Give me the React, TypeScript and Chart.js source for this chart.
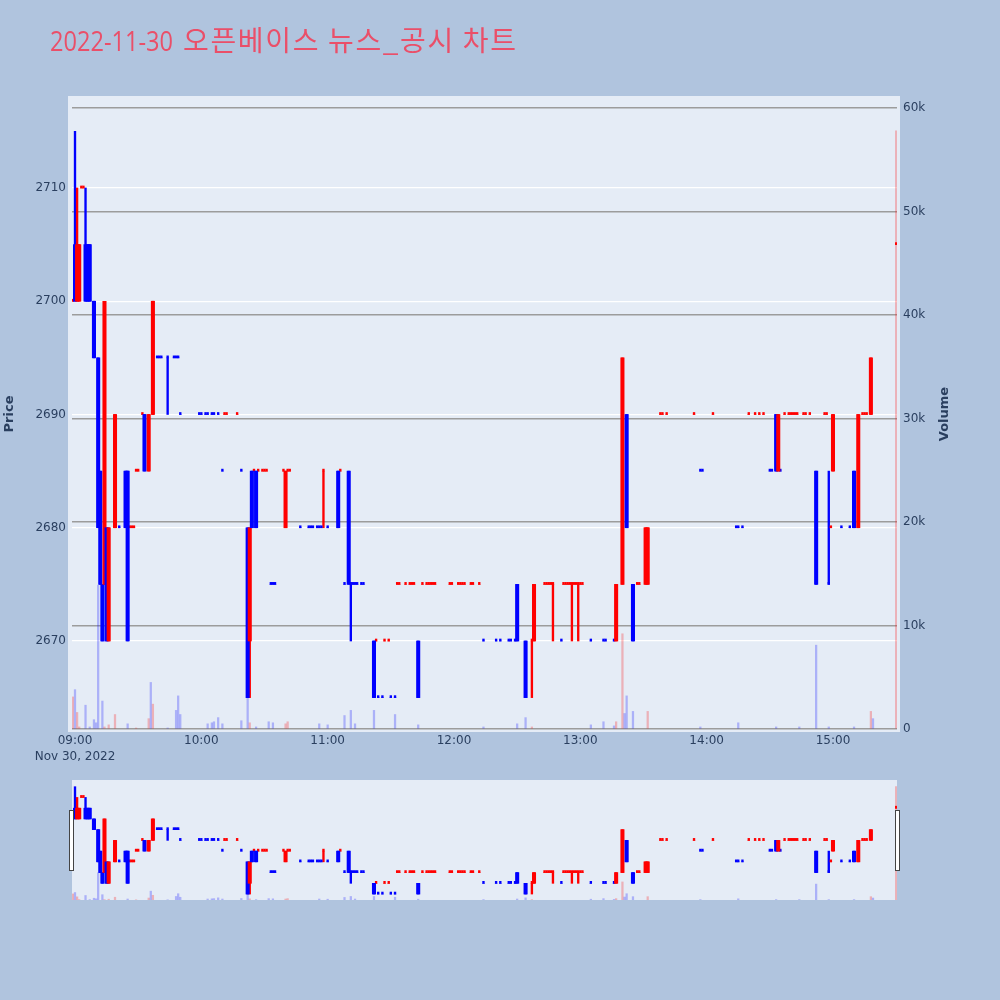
import React, { useEffect, useRef } from 'react';
import { Chart, registerables } from 'chart.js';

Chart.register(...registerables);

// ---- Data (minutes after 09:00) ----
const candleMinute = [
  -1, 0, 1, 2, 3, 4, 5, 6, 7, 9, 11, 12, 13, 14, 15, 16, 19, 21, 24, 25,
  26, 27, 28, 29, 30, 32, 33, 35, 37, 39, 40, 41, 44, 47, 48, 49, 50, 59, 60, 62,
  63, 65, 66, 68, 70, 71, 72, 77, 79, 82, 83, 84, 85, 86, 87, 89, 90, 91, 93, 94,
  95, 99, 100, 101, 102, 107, 111, 112, 113, 115, 116, 117, 118, 120, 125, 126, 128, 130, 131, 132,
  133, 134, 136, 137, 142, 143, 144, 146, 147, 149, 150, 152, 153, 154, 157, 159, 160, 161, 163, 165,
  167, 168, 169, 170, 171, 178, 179, 182, 183, 184, 185, 188, 189, 192, 194, 200, 202, 206, 207, 209,
  210, 214, 217, 218, 223, 224, 225, 226, 227, 231, 232, 233, 234, 235, 236, 237, 238, 239, 240, 241,
  245, 251, 252, 256, 257, 260, 262, 265, 267, 268, 271, 272, 278, 279, 281, 294, 297, 298, 303, 314,
  315, 317, 320, 323, 325, 327, 330, 331, 333, 334, 335, 337, 339, 340, 341, 342, 343, 346, 347, 349,
  352, 356, 357, 358, 359, 360, 364, 368, 370, 372, 374, 375, 376, 378, 390,
];
const candleOpen = [
  2700, 2705, 2700, 2700, 2710, 2710, 2705, 2705, 2705, 2700, 2695, 2685, 2675, 2675, 2680, 2670, 2680, 2680, 2685, 2685,
  2680, 2680, 2680, 2685, 2685, 2690, 2690, 2685, 2690, 2695, 2695, 2695, 2695, 2695, 2695, 2695, 2690, 2690, 2690, 2690,
  2690, 2690, 2690, 2690, 2685, 2690, 2690, 2690, 2685, 2680, 2670, 2685, 2685, 2685, 2685, 2685, 2685, 2685, 2675, 2675,
  2675, 2685, 2680, 2685, 2685, 2680, 2680, 2680, 2680, 2680, 2680, 2680, 2685, 2680, 2685, 2685, 2675, 2685, 2675, 2675,
  2675, 2675, 2675, 2675, 2670, 2670, 2665, 2665, 2670, 2670, 2665, 2665, 2675, 2675, 2675, 2675, 2675, 2675, 2670, 2675,
  2675, 2675, 2675, 2675, 2675, 2675, 2675, 2675, 2675, 2675, 2675, 2675, 2675, 2675, 2670, 2670, 2670, 2670, 2670, 2670,
  2675, 2670, 2670, 2670, 2675, 2675, 2675, 2675, 2675, 2670, 2675, 2675, 2675, 2675, 2675, 2675, 2675, 2675, 2675, 2675,
  2670, 2670, 2670, 2670, 2670, 2675, 2690, 2675, 2675, 2675, 2675, 2675, 2690, 2690, 2690, 2690, 2685, 2685, 2690, 2680,
  2680, 2680, 2690, 2690, 2690, 2690, 2685, 2685, 2690, 2685, 2685, 2690, 2690, 2690, 2690, 2690, 2690, 2690, 2690, 2690,
  2685, 2690, 2690, 2675, 2680, 2685, 2680, 2680, 2685, 2680, 2690, 2690, 2690, 2690, 2705,
];
const candleHigh = [
  2700, 2715, 2710, 2705, 2710, 2710, 2710, 2705, 2705, 2700, 2695, 2685, 2675, 2700, 2680, 2680, 2690, 2680, 2685, 2685,
  2680, 2680, 2680, 2685, 2685, 2690, 2690, 2690, 2700, 2695, 2695, 2695, 2695, 2695, 2695, 2695, 2690, 2690, 2690, 2690,
  2690, 2690, 2690, 2690, 2685, 2690, 2690, 2690, 2685, 2680, 2680, 2685, 2685, 2685, 2685, 2685, 2685, 2685, 2675, 2675,
  2675, 2685, 2685, 2685, 2685, 2680, 2680, 2680, 2680, 2680, 2680, 2680, 2685, 2680, 2685, 2685, 2675, 2685, 2675, 2675,
  2675, 2675, 2675, 2675, 2670, 2670, 2665, 2665, 2670, 2670, 2665, 2665, 2675, 2675, 2675, 2675, 2675, 2675, 2670, 2675,
  2675, 2675, 2675, 2675, 2675, 2675, 2675, 2675, 2675, 2675, 2675, 2675, 2675, 2675, 2670, 2670, 2670, 2670, 2670, 2670,
  2675, 2670, 2670, 2675, 2675, 2675, 2675, 2675, 2675, 2670, 2675, 2675, 2675, 2675, 2675, 2675, 2675, 2675, 2675, 2675,
  2670, 2670, 2670, 2670, 2675, 2695, 2690, 2675, 2675, 2675, 2680, 2680, 2690, 2690, 2690, 2690, 2685, 2685, 2690, 2680,
  2680, 2680, 2690, 2690, 2690, 2690, 2685, 2685, 2690, 2690, 2685, 2690, 2690, 2690, 2690, 2690, 2690, 2690, 2690, 2690,
  2685, 2690, 2690, 2685, 2680, 2690, 2680, 2680, 2685, 2690, 2690, 2690, 2690, 2695, 2705,
];
const candleLow = [
  2700, 2700, 2700, 2700, 2710, 2710, 2700, 2700, 2700, 2695, 2680, 2675, 2670, 2675, 2670, 2670, 2680, 2680, 2680, 2670,
  2680, 2680, 2680, 2685, 2685, 2690, 2685, 2685, 2690, 2695, 2695, 2695, 2690, 2695, 2695, 2695, 2690, 2690, 2690, 2690,
  2690, 2690, 2690, 2690, 2685, 2690, 2690, 2690, 2685, 2665, 2665, 2680, 2685, 2680, 2685, 2685, 2685, 2685, 2675, 2675,
  2675, 2685, 2680, 2685, 2685, 2680, 2680, 2680, 2680, 2680, 2680, 2680, 2680, 2680, 2680, 2685, 2675, 2675, 2670, 2675,
  2675, 2675, 2675, 2675, 2665, 2670, 2665, 2665, 2670, 2670, 2665, 2665, 2675, 2675, 2675, 2675, 2675, 2675, 2665, 2675,
  2675, 2675, 2675, 2675, 2675, 2675, 2675, 2675, 2675, 2675, 2675, 2675, 2675, 2675, 2670, 2670, 2670, 2670, 2670, 2670,
  2670, 2665, 2665, 2670, 2675, 2675, 2675, 2675, 2670, 2670, 2675, 2675, 2675, 2675, 2670, 2675, 2675, 2670, 2675, 2675,
  2670, 2670, 2670, 2670, 2670, 2675, 2680, 2670, 2675, 2675, 2675, 2675, 2690, 2690, 2690, 2690, 2685, 2685, 2690, 2680,
  2680, 2680, 2690, 2690, 2690, 2690, 2685, 2685, 2685, 2685, 2685, 2690, 2690, 2690, 2690, 2690, 2690, 2690, 2690, 2690,
  2675, 2690, 2690, 2675, 2680, 2685, 2680, 2680, 2680, 2680, 2690, 2690, 2690, 2690, 2705,
];
const candleClose = [
  2700, 2700, 2705, 2705, 2710, 2710, 2700, 2700, 2700, 2695, 2680, 2675, 2670, 2700, 2670, 2680, 2690, 2680, 2680, 2670,
  2680, 2680, 2680, 2685, 2685, 2690, 2685, 2690, 2700, 2695, 2695, 2695, 2695, 2695, 2695, 2695, 2690, 2690, 2690, 2690,
  2690, 2690, 2690, 2690, 2685, 2690, 2690, 2690, 2685, 2665, 2680, 2680, 2685, 2680, 2685, 2685, 2685, 2685, 2675, 2675,
  2675, 2685, 2685, 2685, 2685, 2680, 2680, 2680, 2680, 2680, 2680, 2680, 2685, 2680, 2680, 2685, 2675, 2675, 2675, 2675,
  2675, 2675, 2675, 2675, 2665, 2670, 2665, 2665, 2670, 2670, 2665, 2665, 2675, 2675, 2675, 2675, 2675, 2675, 2665, 2675,
  2675, 2675, 2675, 2675, 2675, 2675, 2675, 2675, 2675, 2675, 2675, 2675, 2675, 2675, 2670, 2670, 2670, 2670, 2670, 2670,
  2670, 2665, 2670, 2675, 2675, 2675, 2675, 2675, 2675, 2670, 2675, 2675, 2675, 2675, 2675, 2675, 2675, 2675, 2675, 2675,
  2670, 2670, 2670, 2670, 2675, 2695, 2680, 2670, 2675, 2675, 2680, 2680, 2690, 2690, 2690, 2690, 2685, 2685, 2690, 2680,
  2680, 2680, 2690, 2690, 2690, 2690, 2685, 2685, 2685, 2690, 2685, 2690, 2690, 2690, 2690, 2690, 2690, 2690, 2690, 2690,
  2675, 2690, 2690, 2675, 2680, 2690, 2680, 2680, 2680, 2690, 2690, 2690, 2690, 2695, 2705,
];

const volumeMinute = [
  -1, 0, 1, 2, 5, 7, 9, 10, 11, 13, 14, 16, 19, 25, 29, 35, 36, 37, 44, 48,
  49, 50, 63, 65, 66, 68, 70, 79, 82, 83, 86, 92, 94, 100, 101, 116, 120, 128, 131, 133,
  142, 152, 163, 194, 210, 214, 217, 245, 251, 256, 257, 260, 261, 262, 265, 272, 297, 315, 333, 344,
  352, 358, 370, 378, 379, 390,
];
const volumeValue = [
  3100, 3800, 1600, 200, 2300, 200, 900, 600, 13900, 2700, 200, 400, 1400, 500, 100, 1000, 4500, 2400, 100, 1800,
  3200, 1400, 500, 600, 700, 1100, 500, 800, 3200, 600, 200, 700, 600, 500, 700, 500, 400, 1300, 1800, 500,
  1800, 1400, 400, 200, 500, 1100, 200, 400, 700, 300, 700, 9200, 1500, 3200, 1700, 1700, 200, 600, 200, 200,
  8100, 200, 200, 1700, 1000, 57800,
];

const timeTickMinutes = [0, 60, 120, 180, 240, 300, 360];
const timeTickLabels = ['09:00', '10:00', '11:00', '12:00', '13:00', '14:00', '15:00'];
const dateLabel = 'Nov 30, 2022';
const priceTicks = [2670, 2680, 2690, 2700, 2710];
const volumeTicks = [0, 10000, 20000, 30000, 40000, 50000, 60000];
const titleDate = '2022-11-30';
const titleRest = '오픈베이스 뉴스_공시 차트';

// ---- Ranges / styling ----
const X_MIN = -1.425;
const X_MAX = 390.4;
const PRICE_MIN = 2662.23;
const PRICE_MAX = 2718.12;
const VOL_MIN = 0;
const VOL_MAX = 61160;

const RED = '#ff0000';
const BLUE = '#0000ff';
const RED_VOL = 'rgba(255,0,0,0.25)';
const BLUE_VOL = 'rgba(0,0,255,0.25)';
const AXIS_COLOR = '#2a3f5f';
const PLOT_BG = '#e5ecf6';
const TICK_FONT = '"DejaVu Sans", Verdana, sans-serif';
const TITLE_FONT = '"Open Sans", "Noto Sans CJK KR", sans-serif';
const KR_FONT = '"Noto Sans CJK KR", sans-serif';

function candleDirections(): boolean[] {
  const dirs: boolean[] = [];
  let prevClose: number | null = null;
  let prevUp = true;
  for (let i = 0; i < candleMinute.length; i++) {
    const o = candleOpen[i];
    const c = candleClose[i];
    let up: boolean;
    if (c > o) up = true;
    else if (c < o) up = false;
    else if (prevClose === null) up = true;
    else if (c > prevClose) up = true;
    else if (c < prevClose) up = false;
    else up = prevUp;
    dirs.push(up);
    prevClose = c;
    prevUp = up;
  }
  return dirs;
}

function buildDatasets(): any[] {
  const up = candleDirections();
  const col = up.map((u) => (u ? RED : BLUE));
  const volCol = volumeMinute.map((m) => {
    const i = candleMinute.indexOf(m);
    return i >= 0 && up[i] ? RED_VOL : BLUE_VOL;
  });
  const bodyIdx: number[] = [];
  const dojiIdx: number[] = [];
  candleMinute.forEach((_, i) => {
    if (candleOpen[i] === candleClose[i]) dojiIdx.push(i);
    else bodyIdx.push(i);
  });
  return [
    {
      type: 'bar',
      label: 'Volume',
      yAxisID: 'y2',
      data: volumeMinute.map((m, i) => ({ x: m, y: volumeValue[i] })),
      backgroundColor: volCol,
      barThickness: 1.6,
      grouped: false,
      order: 4,
    },
    {
      type: 'bar',
      label: 'wick',
      yAxisID: 'y',
      data: candleMinute.map((m, i) => ({ x: m, y: [candleLow[i], candleHigh[i]] })),
      backgroundColor: col,
      barThickness: 1.7,
      grouped: false,
      order: 3,
    },
    {
      type: 'bar',
      label: 'doji',
      yAxisID: 'y',
      data: dojiIdx.map((i) => ({ x: candleMinute[i], y: [candleOpen[i], candleClose[i]] })),
      backgroundColor: dojiIdx.map((i) => col[i]),
      barThickness: 1.7,
      minBarLength: 2,
      grouped: false,
      order: 2,
    },
    {
      type: 'bar',
      label: 'body',
      yAxisID: 'y',
      data: bodyIdx.map((i) => ({
        x: candleMinute[i],
        y: [Math.min(candleOpen[i], candleClose[i]), Math.max(candleOpen[i], candleClose[i])],
      })),
      backgroundColor: bodyIdx.map((i) => col[i]),
      barThickness: 3.4,
      grouped: false,
      order: 1,
    },
  ];
}

const mainPlugin = {
  id: 'mainDecor',
  beforeDraw(chart: any) {
    const ctx = chart.ctx;
    ctx.save();
    ctx.fillStyle = PLOT_BG;
    ctx.fillRect(68, 96, 832, 636);
    ctx.restore();
  },
  afterDraw(chart: any) {
    const ctx = chart.ctx;
    // Title
    ctx.save();
    ctx.fillStyle = '#ea4f69';
    ctx.textBaseline = 'alphabetic';
    ctx.textAlign = 'left';
    ctx.font = `27.5px ${TITLE_FONT}`;
    ctx.fillText(titleDate, 50, 50.5, 123);
    ctx.font = `28px ${KR_FONT}`;
    const target = 333;
    const w0 = ctx.measureText(titleRest).width;
    const n = Array.from(titleRest).length;
    const spacing = (target - w0) / Math.max(1, n - 1);
    if ('letterSpacing' in ctx) (ctx as any).letterSpacing = `${spacing.toFixed(2)}px`;
    ctx.fillText(titleRest, 183, 51);
    ctx.restore();

    // Axis titles
    ctx.save();
    ctx.fillStyle = AXIS_COLOR;
    ctx.font = `bold 13px ${TICK_FONT}`;
    ctx.textAlign = 'center';
    ctx.textBaseline = 'middle';
    ctx.translate(10, 414);
    ctx.rotate(-Math.PI / 2);
    ctx.fillText('Price', 0, 0);
    ctx.restore();

    ctx.save();
    ctx.fillStyle = AXIS_COLOR;
    ctx.font = `bold 13px ${TICK_FONT}`;
    ctx.textAlign = 'center';
    ctx.textBaseline = 'middle';
    ctx.translate(945, 414);
    ctx.rotate(-Math.PI / 2);
    ctx.fillText('Volume', 0, 0);
    ctx.restore();
  },
};

const sliderPlugin = {
  id: 'sliderDecor',
  beforeDraw(chart: any) {
    const { left, top, right, bottom } = chart.chartArea;
    const ctx = chart.ctx;
    ctx.save();
    ctx.fillStyle = PLOT_BG;
    ctx.fillRect(left, top, right - left, bottom - top);
    ctx.restore();
  },
  afterDraw(chart: any) {
    const { left, top, right, bottom } = chart.chartArea;
    const ctx = chart.ctx;
    const h = bottom - top;
    ctx.save();
    ctx.fillStyle = '#ffffff';
    ctx.strokeStyle = '#444444';
    ctx.lineWidth = 1;
    const gy = top + h * 0.25;
    const gh = h * 0.5;
    ctx.fillRect(left - 3, gy, 4, gh);
    ctx.strokeRect(left - 2.5, gy + 0.5, 4, gh);
    ctx.fillRect(right - 1, gy, 4, gh);
    ctx.strokeRect(right - 1.5, gy + 0.5, 4, gh);
    ctx.restore();
  },
};

const tickFont = { family: TICK_FONT, size: 12, lineHeight: 1.35 };

export default function App() {
  const mainRef = useRef<HTMLCanvasElement | null>(null);
  const sliderRef = useRef<HTMLCanvasElement | null>(null);

  useEffect(() => {
    document.body.style.margin = '0';
    document.documentElement.style.overflow = 'hidden';
    const main = new Chart(mainRef.current as HTMLCanvasElement, {
      type: 'bar',
      data: { datasets: buildDatasets() },
      plugins: [mainPlugin],
      options: {
        animation: false,
        responsive: false,
        layout: { padding: { top: 96, left: 0, right: 0, bottom: 0 } },
        plugins: { legend: { display: false }, tooltip: { enabled: false }, title: { display: false } },
        scales: {
          x: {
            type: 'linear',
            min: X_MIN,
            max: X_MAX,
            offset: false,
            grid: { display: false, drawTicks: false },
            border: { display: false },
            afterBuildTicks: (s: any) => {
              s.ticks = timeTickMinutes.map((v) => ({ value: v }));
            },
            afterFit: (s: any) => {
              s.height = 41;
            },
            ticks: {
              autoSkip: false,
              maxRotation: 0,
              minRotation: 0,
              padding: 4,
              color: AXIS_COLOR,
              font: tickFont,
              callback: (v: any) => {
                const idx = timeTickMinutes.indexOf(Number(v));
                const lab = idx >= 0 ? timeTickLabels[idx] : '';
                return idx === 0 ? [lab, dateLabel] : lab;
              },
            },
          },
          y: {
            type: 'linear',
            position: 'left',
            min: PRICE_MIN,
            max: PRICE_MAX,
            grid: { color: '#ffffff', lineWidth: 1.3, drawTicks: false },
            border: { display: false },
            afterBuildTicks: (s: any) => {
              s.ticks = priceTicks.map((v) => ({ value: v }));
            },
            afterFit: (s: any) => {
              s.width = 72;
            },
            ticks: { padding: 6, color: AXIS_COLOR, font: tickFont, callback: (v: any) => String(v) },
          },
          y2: {
            type: 'linear',
            position: 'right',
            min: VOL_MIN,
            max: VOL_MAX,
            grid: { color: '#9c9c9c', lineWidth: 1.5, drawTicks: false },
            border: { display: false },
            afterBuildTicks: (s: any) => {
              s.ticks = volumeTicks.map((v) => ({ value: v }));
            },
            afterFit: (s: any) => {
              s.width = 103;
            },
            ticks: {
              padding: 6,
              color: AXIS_COLOR,
              font: tickFont,
              callback: (v: any) => (Number(v) === 0 ? '0' : `${Number(v) / 1000}k`),
            },
          },
        },
      } as any,
    });

    const slider = new Chart(sliderRef.current as HTMLCanvasElement, {
      type: 'bar',
      data: { datasets: buildDatasets() },
      plugins: [sliderPlugin],
      options: {
        animation: false,
        responsive: false,
        layout: { padding: { top: 10, left: 72, right: 103, bottom: 0 } },
        plugins: { legend: { display: false }, tooltip: { enabled: false } },
        scales: {
          x: { type: 'linear', display: false, min: X_MIN, max: X_MAX, offset: false },
          y: { type: 'linear', display: false, min: PRICE_MIN, max: PRICE_MAX },
          y2: { type: 'linear', display: false, min: VOL_MIN, max: VOL_MAX },
        },
      } as any,
    });

    return () => {
      main.destroy();
      slider.destroy();
    };
  }, []);

  return (
    <div
      style={{
        position: 'absolute',
        left: 0,
        top: 0,
        width: 1000,
        height: 1000,
        background: '#b0c4de',
        overflow: 'hidden',
      }}
    >
      <canvas
        ref={mainRef}
        width={1000}
        height={770}
        style={{ position: 'absolute', left: 0, top: 0, width: 1000, height: 770 }}
      />
      <canvas
        ref={sliderRef}
        width={1000}
        height={130}
        style={{ position: 'absolute', left: 0, top: 770, width: 1000, height: 130 }}
      />
    </div>
  );
}
